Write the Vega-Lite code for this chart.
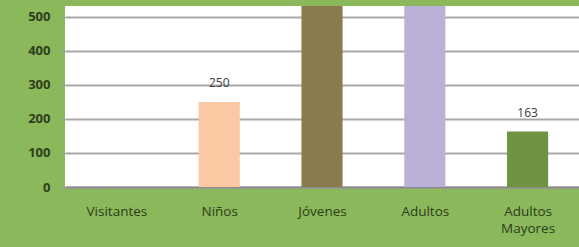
{
  "$schema": "https://vega.github.io/schema/vega-lite/v6.json",
  "autosize": "none",
  "width": 514,
  "height": 181,
  "padding": {"left": 65, "top": 6, "right": 0, "bottom": 60},
  "background": "#8AB85A",
  "config": {
    "view": {"fill": "#FFFFFF", "stroke": null},
    "font": "Open Sans"
  },
  "data": {
    "values": [
      {"grupo": "Visitantes", "valor": 0},
      {"grupo": "Niños", "valor": 250},
      {"grupo": "Jóvenes", "valor": 600},
      {"grupo": "Adultos", "valor": 600},
      {"grupo": "Adultos Mayores", "valor": 163}
    ]
  },
  "encoding": {
    "x": {
      "field": "grupo",
      "type": "nominal",
      "sort": null,
      "scale": {"paddingInner": 0.6, "paddingOuter": 0.3},
      "axis": {
        "title": null,
        "labelAngle": 0,
        "labelFont": "Open Sans",
        "labelFontSize": 13.5,
        "labelColor": "#2E3D1C",
        "labelPadding": 13,
        "labelLineHeight": 17,
        "labelBaseline": "top",
        "labelExpr": "datum.label == 'Adultos Mayores' ? ['Adultos', 'Mayores'] : datum.label",
        "tickBand": "extent",
        "tickSize": 4,
        "tickColor": "#9A9A9A",
        "domainColor": "#8C8C8C",
        "domainWidth": 2,
        "grid": false
      }
    },
    "y": {
      "field": "valor",
      "type": "quantitative",
      "scale": {"domain": [0, 532], "nice": false},
      "axis": {
        "title": null,
        "values": [0, 100, 200, 300, 400, 500],
        "labelFont": "Open Sans",
        "labelFontSize": 13,
        "labelFontWeight": "bold",
        "labelColor": "#2E3D1C",
        "labelPadding": 10,
        "tickSize": 5,
        "tickColor": "#9A9A9A",
        "domain": false,
        "gridColor": "#A8A8A8",
        "gridWidth": 2
      }
    }
  },
  "layer": [
    {
      "mark": {"type": "bar", "clip": true},
      "encoding": {
        "color": {
          "field": "grupo",
          "type": "nominal",
          "sort": null,
          "scale": {
            "domain": ["Visitantes", "Niños", "Jóvenes", "Adultos", "Adultos Mayores"],
            "range": ["#8C8C8C", "#FAC9A4", "#8B7C4E", "#BBB1D6", "#6F9340"]
          },
          "legend": null
        }
      }
    },
    {
      "transform": [{"filter": "datum.valor > 0 && datum.valor < 500"}],
      "mark": {"type": "text", "dy": -19, "fontSize": 12, "color": "#3A3A3A", "font": "Open Sans"},
      "encoding": {"text": {"field": "valor", "type": "quantitative"}}
    }
  ]
}
